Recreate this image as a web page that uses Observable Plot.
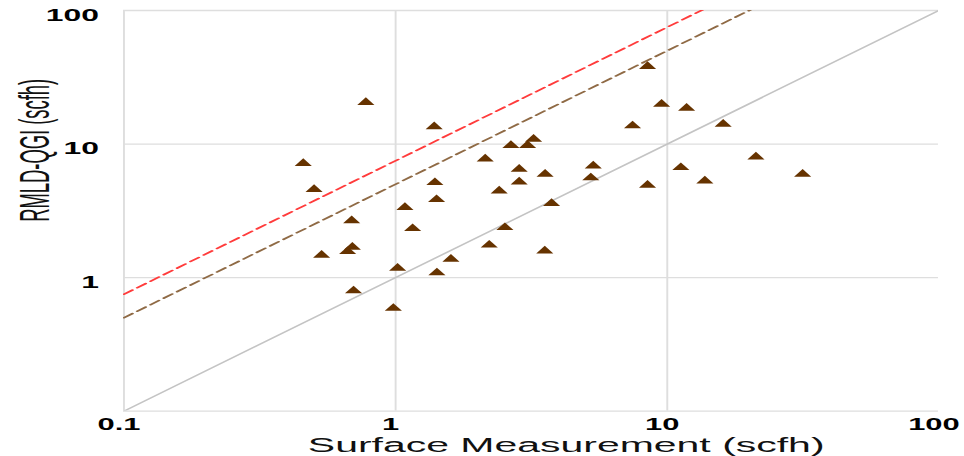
<!DOCTYPE html>
<html>
<head>
<meta charset="utf-8">
<script src="https://cdn.jsdelivr.net/npm/d3@7"></script>
<script src="https://cdn.jsdelivr.net/npm/@observablehq/plot@0.6"></script>
<style>
  html, body { margin: 0; padding: 0; background: #fff; }
  #chart { width: 964px; height: 456px; overflow: hidden; }
</style>
</head>
<body>
<div id="chart"></div>
<script>
// Surface measurement (scfh) vs RMLD-QGI (scfh)
const surface = [0.457, 0.501, 0.777, 0.534, 0.689, 0.666, 0.693, 0.700, 1.017, 0.981,
                 1.082, 1.155, 1.387, 1.395, 1.415, 1.419, 1.598, 2.137, 2.211, 2.406,
                 2.525, 2.657, 2.85, 2.85, 3.06, 3.22, 3.55, 3.54, 3.75, 5.34,
                 5.23, 8.46, 7.45, 8.46, 9.53, 11.78, 11.22, 13.75, 16.06, 21.2, 31.5];
const rmld = [7.15, 4.57, 20.5, 1.47, 2.67, 1.567, 1.69, 0.796, 1.175, 0.589,
              3.35, 2.33, 13.5, 5.15, 3.84, 1.086, 1.372, 7.75, 1.753, 4.46,
              2.37, 9.75, 6.48, 5.21, 9.75, 10.87, 5.94, 1.586, 3.59, 6.85,
              5.59, 38.1, 13.7, 4.92, 19.9, 18.55, 6.67, 5.30, 14.08, 8.02, 5.94];

// Reference lines y = ratio * x
const refRatios = [1, 5, 7.5];
const refColors = ["#c4c4c4", "#8f6a45", "#ff3b3b"];
const refDash = [null, "6,3.5", "6,3.5"];

const xTicks = [0.1, 1, 10, 100];
const yTicks = [1, 10, 100];
const xGrid = [0.1, 1, 10];
const yGrid = [0.1, 1, 10, 100];
const xDomain = [0.1, 100];
const yDomain = [0.1, 100];

const xTitle = "Surface Measurement (scfh)";
const yTitle = "RMLD-QGI (scfh)";

const points = surface.map((s, i) => ({x: s, y: rmld[i]}));
const refLines = refRatios.map((r, i) => ({
  ratio: r,
  color: refColors[i],
  dash: refDash[i],
  pts: xDomain.map(x => ({x, y: r * x}))
}));

const W = 500, H = 456;   // drawn then stretched horizontally to 964px
const plot = Plot.plot({
  width: W,
  height: H,
  marginLeft: 63.8,
  marginRight: 13.5,
  marginTop: 10,
  marginBottom: 45.4,
  style: {fontFamily: "'Liberation Sans', Arial, sans-serif", color: "#000", background: "#fff"},
  x: {type: "log", domain: xDomain},
  y: {type: "log", domain: yDomain},
  marks: [
    Plot.gridX(xGrid, {stroke: "#dedede", strokeOpacity: 1, strokeWidth: 1}),
    Plot.gridY(yGrid, {stroke: "#dedede", strokeOpacity: 1, strokeWidth: 1.3}),
    ...refLines.map(l => Plot.line(l.pts, {
      x: "x", y: "y", stroke: l.color, strokeWidth: l.dash ? 1.5 : 1.3,
      strokeDasharray: l.dash, clip: "frame"
    })),
    Plot.dot(points, {x: "x", y: "y", symbol: "triangle", r: 3.3, fill: "#663300", stroke: "none"}),
    Plot.axisX(xTicks, {tickSize: 0, tickPadding: 7.5, fontSize: 16, fontWeight: "bold",
      dx: -2.6, label: null, tickFormat: d => String(d)}),
    Plot.axisY(yTicks, {tickSize: 0, tickPadding: 13, fontSize: 16.5, fontWeight: "bold",
      dy: 5, label: null, tickFormat: d => String(d)}),
    Plot.text([xTitle], {frameAnchor: "bottom", dx: 18, dy: 40.6, lineAnchor: "bottom",
      fontSize: 20, fill: "#111", text: d => d}),
    Plot.text([yTitle], {frameAnchor: "left", rotate: -90, dx: -38.8, dy: 11, lineAnchor: "bottom",
      fontSize: 22, fill: "#111", text: d => d,
      fontFamily: "'Liberation Sans Narrow', 'Liberation Sans', Arial, sans-serif"})
  ]
});

plot.setAttribute("width", 964);
plot.setAttribute("height", 456);
plot.setAttribute("preserveAspectRatio", "none");
plot.style.width = "964px";
plot.style.height = "456px";
plot.style.maxWidth = "none";

plot.querySelectorAll("text").forEach(t => {
  if (t.textContent === yTitle) {
    t.setAttribute("textLength", 143);
    t.setAttribute("lengthAdjust", "spacingAndGlyphs");
  } else if (t.textContent === xTitle) {
    t.setAttribute("textLength", 268);
    t.setAttribute("lengthAdjust", "spacingAndGlyphs");
  }
});

document.getElementById("chart").appendChild(plot);
</script>
</body>
</html>
